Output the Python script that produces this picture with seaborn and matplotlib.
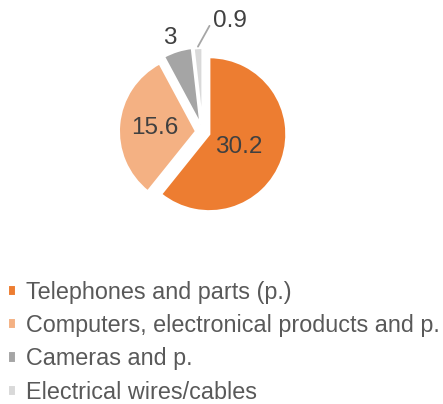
import numpy as np
import matplotlib
matplotlib.use("Agg")
import matplotlib.pyplot as plt
import seaborn as sns

# data
categories = [
    "Telephones and parts (p.)",
    "Computers, electronical products and p.",
    "Cameras and p.",
    "Electrical wires/cables",
]
values = [30.2, 15.6, 3, 0.9]
value_labels = ["30.2", "15.6", "3", "0.9"]
colors = ["#ED7D31", "#F4B183", "#A5A5A5", "#D9D9D9"]

sns.set_theme(style="white")
plt.rcParams["font.family"] = ["Liberation Sans", "DejaVu Sans"]

fig = plt.figure(figsize=(4.43, 4.04), dpi=100)
ax = fig.add_axes([0.284, 0.483, 0.3476, 0.381])

wedges, _ = ax.pie(
    values,
    colors=colors,
    startangle=90,
    counterclock=False,
    explode=[0.09, 0.09, 0.1, 0.09],
    wedgeprops=dict(linewidth=1.5, edgecolor="white"),
)
ax.set_xlim(-1, 1)
ax.set_ylim(-1, 1)
ax.set_aspect("equal")

# labels: (distance from centre, angle offset in degrees)
spots = [(0.42, -4), (0.54, 1), (1.19, 2), None]
for w, lab, spot in zip(wedges, value_labels, spots):
    mid = np.deg2rad((w.theta1 + w.theta2) / 2)
    cx, cy = w.center
    if spot is None:
        # small slice: leader line from the rim, label up and right
        x0, y0 = cx + 1.02 * w.r * np.cos(mid), cy + 1.02 * w.r * np.sin(mid)
        x1, y1 = x0 + 0.15, y0 + 0.27
        ax.plot([x0, x1], [y0, y1], color="#A6A6A6", lw=1.3, clip_on=False)
        ax.text(x1 + 0.05, y1 + 0.06, lab, ha="left", va="center",
                fontsize=17.5, color="#404040")
        continue
    d, off = spot
    a = mid + np.deg2rad(off)
    ax.text(cx + d * np.cos(a), cy + d * np.sin(a), lab, ha="center", va="center",
            fontsize=17.5, color="#404040")

fig.legend(
    wedges, categories,
    loc="upper left", bbox_to_anchor=(0.018, 0.305),
    frameon=False, fontsize=16.8, labelcolor="#595959",
    handlelength=0.36, handleheight=0.36, handletextpad=0.42,
    labelspacing=0.44, borderaxespad=0, borderpad=0,
)

fig.savefig("out.png", dpi=100)
